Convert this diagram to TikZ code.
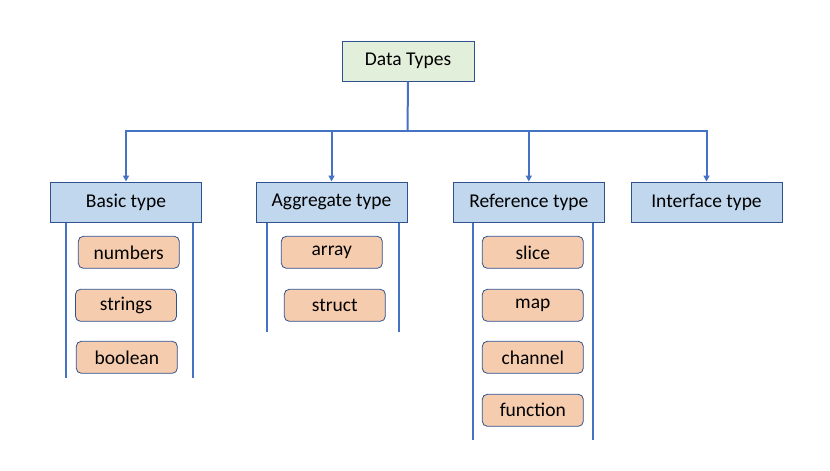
\documentclass[tikz,border=0pt]{standalone}
\usepackage{fontspec}
\setmainfont{Carlito}
\usetikzlibrary{arrows.meta}
\definecolor{lineblue}{HTML}{4472C4}
\definecolor{edgeblue}{HTML}{2F528F}
\definecolor{greenfill}{HTML}{E2EFDA}
\definecolor{bluefill}{HTML}{C1D7EE}
\definecolor{orangefill}{HTML}{F6CCAE}
\tikzset{
  every node/.style={font=\fontsize{19.5}{22}\selectfont, inner sep=0pt},
  rootbox/.style={draw=edgeblue, line width=1pt, fill=greenfill, minimum width=132pt, minimum height=40pt},
  catbox/.style={draw=edgeblue, line width=1pt, fill=bluefill, minimum width=151pt, minimum height=40pt},
  itembox/.style={draw=edgeblue, line width=0.8pt, fill=orangefill, rounded corners=5pt, minimum width=101pt, minimum height=32pt},
  conn/.style={draw=lineblue, line width=2pt},
  arr/.style={conn, -{Triangle[length=6pt, width=6pt]}},
}
\begin{document}
\begin{tikzpicture}[x=1pt, y=-1pt]
\useasboundingbox (0,0) rectangle (830,471);
% top
\node[rootbox] (root) at (408,61) {Data Types};
\node[catbox] (basic) at (126,202) {Basic type};
\node[catbox] (agg) at (331.5,202) {Aggregate type};
\node[catbox] (ref) at (528.8,202) {Reference type};
\node[catbox] (intf) at (706.5,202) {Interface type};
% items
\node[itembox] (numbers) at (128.8,252.3) {numbers};
\node[itembox] (strings) at (126,305.3) {strings};
\node[itembox] (boolean) at (126.8,357.3) {boolean};
\node[itembox] (array) at (331.8,252.3) {array};
\node[itembox] (struct) at (334.8,305.3) {struct};
\node[itembox] (slice) at (532.8,252.3) {slice};
\node[itembox] (map) at (532.8,305.3) {map};
\node[itembox] (channel) at (532.8,357.3) {channel};
\node[itembox] (function) at (532.8,410.3) {function};
% connectors
\coordinate (bus) at (407.5,130.5);
\draw[conn] (root.south) -- (bus);
\draw[arr] (bus) -| (basic.north);
\draw[arr] (bus) -| (intf.north);
\draw[arr] (agg.north |- bus) -- (agg.north);
\draw[arr] (ref.north |- bus) -- (ref.north);
% side rails
\coordinate (bl) at (66,378); \coordinate (br) at (193,378);
\coordinate (al) at (267,332); \coordinate (ar) at (399,332);
\coordinate (rl) at (473,440); \coordinate (rr) at (593,440);
\draw[conn] (bl |- basic.south) -- (bl);
\draw[conn] (br |- basic.south) -- (br);
\draw[conn] (al |- agg.south) -- (al);
\draw[conn] (ar |- agg.south) -- (ar);
\draw[conn] (rl |- ref.south) -- (rl);
\draw[conn] (rr |- ref.south) -- (rr);
\end{tikzpicture}
\end{document}
